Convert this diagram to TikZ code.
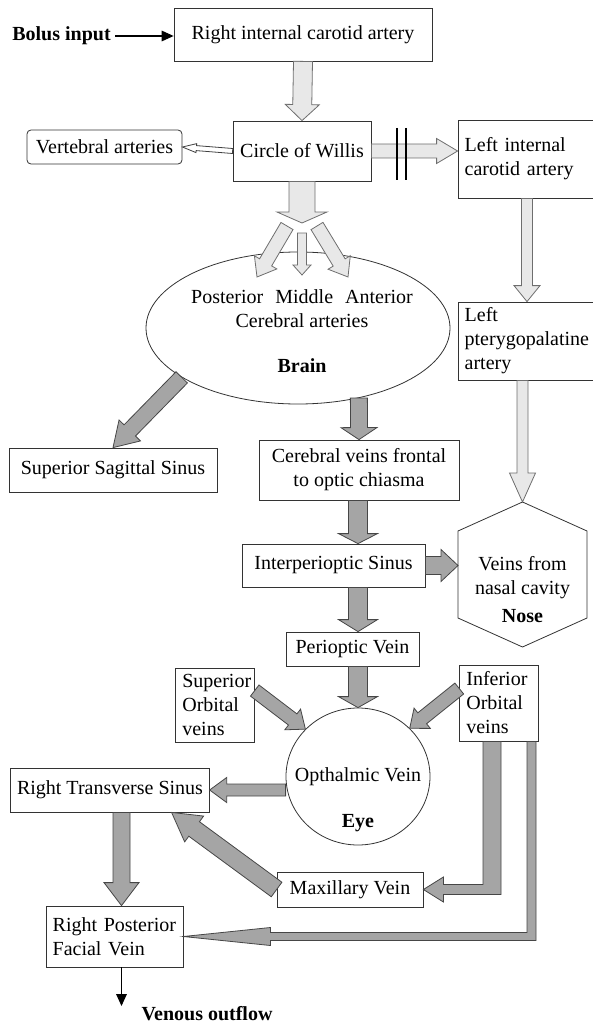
\documentclass[tikz,border=0pt]{standalone}
\usepackage{fontspec}
\setmainfont{Liberation Serif}
\usetikzlibrary{calc,arrows.meta,shapes.geometric}

\definecolor{artfill}{RGB}{232,232,232}
\definecolor{artline}{RGB}{110,110,110}
\definecolor{veinfill}{RGB}{165,165,165}
\definecolor{veinline}{RGB}{70,70,70}

% block arrow: [style]{from}{to}{half shaft}{half head}{head length}, sizes in px
\newcommand{\fatarrow}[6][]{%
  \coordinate (fahead) at ($(#3)!#6*0.75pt!(#2)$);
  \draw[#1] ($(#2)!#4*0.75pt!90:(#3)$) -- ($(fahead)!#4*0.75pt!-90:(#2)$)
    -- ($(fahead)!#5*0.75pt!-90:(#2)$) -- (#3) -- ($(fahead)!#5*0.75pt!90:(#2)$)
    -- ($(fahead)!#4*0.75pt!90:(#2)$) -- ($(#2)!#4*0.75pt!-90:(#3)$) -- cycle;}

\tikzset{
  box/.style={draw=black!80, line width=0.6pt, fill=white, inner sep=0pt, align=center},
  lbox/.style={draw=black!80, line width=0.6pt, fill=white, inner xsep=5pt, inner ysep=0pt, align=left, text width=#1},
  wh/.style 2 args={minimum width=#1*0.75pt, minimum height=#2*0.75pt},
  artery/.style={fill=artfill, draw=artline, line width=0.6pt},
  vein/.style={fill=veinfill, draw=veinline, line width=0.6pt},
  flow/.style={line width=0.8pt, -{Triangle[length=9pt,width=8pt]}},
  boldtext/.style={font=\fontsize{15}{18}\selectfont\bfseries},
}

\begin{document}
\begin{tikzpicture}[x=0.75pt,y=0.75pt,yscale=-1,xscale=1, font=\fontsize{15}{18}\selectfont]
\useasboundingbox (0,0) rectangle (592,1027);

% Text Node
\node[boldtext] (bolus) at (61.5,36) {Bolus input};
% Boxes
\node[box, wh={258}{53}] (ric) at (303,34.5) {Right internal carotid artery};
\node[box, wh={138}{60}] (cow) at (302,151) {Circle of Willis};
\node[box, wh={155}{34}, rounded corners=3pt] (vert) at (104.5,147) {Vertebral arteries};
\node[lbox=93.5pt, minimum height=78*0.75pt] (lica) at (527,159) {Left internal\\carotid artery};
\node[lbox=93.5pt, minimum height=78*0.75pt] (lpa) at (527,341) {Left\\pterygopalatine\\artery};

% Brain
\node[draw=black!80, line width=0.6pt, ellipse, inner sep=0pt, wh={304}{152}] (brain) at (298,328) {};
\node[align=center] (braintxt) at (302,331) {Posterior\hspace{0.6em}Middle\hspace{0.6em}Anterior\\Cerebral arteries\\[16pt]\textbf{Brain}};

\node[box, wh={208}{44}] (sss) at (113,470) {Superior Sagittal Sinus};
\node[box, wh={200}{60}] (cvf) at (359,470) {Cerebral veins frontal\\to optic chiasma};
\node[box, wh={183}{43}] (isn) at (333.5,565.5) {Interperioptic Sinus};

% Nose
\coordinate (nose) at (522.5,574.5);
\draw[draw=black!80, line width=0.6pt] ($(nose)+(0,-72.5)$) -- ($(nose)+(64.5,-43.5)$) -- ($(nose)+(64.5,43.5)$) -- ($(nose)+(0,72.5)$) -- ($(nose)+(-64.5,43.5)$) -- ($(nose)+(-64.5,-43.5)$) -- cycle;
\node[align=center] (nosetxt) at (522.5,590) {Veins from\\nasal cavity\\[3pt]\textbf{Nose}};

\node[box, wh={133}{34}] (pov) at (352.5,649) {Perioptic Vein};
\node[lbox=49pt, minimum height=74*0.75pt] (sov) at (215,705) {Superior\\Orbital\\veins};
\node[lbox=49pt, minimum height=76*0.75pt] (iov) at (499,703) {Inferior\\Orbital\\veins};

% Eye
\node[draw=black!80, line width=0.6pt, ellipse, inner sep=0pt, wh={144}{137}] (eye) at (358,776.5) {};
\node[align=center] (eyetxt) at (358,800) {Opthalmic Vein\\[16.5pt]\textbf{Eye}};

\node[box, wh={198.5}{44}] (rts) at (110,790) {Right Transverse Sinus};
\node[box, wh={146}{35}] (mxv) at (350,889.5) {Maxillary Vein};
\node[lbox=92.75pt, minimum height=61*0.75pt] (rpf) at (114.5,936.5) {Right Posterior\\Facial Vein};
\node[boldtext] (out) at (207,1014) {Venous outflow};

% helper coordinates
\coordinate (licain) at (cow.east -| lica.west);
\coordinate (split) at (302,223);
\coordinate (pca0) at (287,226);
\coordinate (pca) at (257,277);
\coordinate (mca0) at (302,233);
\coordinate (mca) at (302,275);
\coordinate (aca0) at (317,226);
\coordinate (aca) at (348,277);
\coordinate (nosetop) at ($(nose)+(0,-72.5)$);
\coordinate (nosel) at ($(nose)+(-64.5,0)$);
\coordinate (noseup) at (lpa.south -| nosetop);
\coordinate (nosein) at (isn.east -| nosel);
\coordinate (cv1) at (cvf.south -| eye.north);
\coordinate (cv2) at (isn.north -| eye.north);
\coordinate (is1) at (isn.south -| eye.north);
\coordinate (is2) at (pov.north -| eye.north);
\coordinate (pv1) at (pov.south -| eye.north);
\coordinate (ey1) at (rts.east -| eye.west);
\coordinate (flowx) at (121.5,0);
\coordinate (rt1) at (rts.south -| flowx);
\coordinate (rt2) at (rpf.north -| flowx);
\coordinate (rp1) at (rpf.south -| flowx);
\coordinate (outtip) at (121.5,1006);

% Arteries
\draw[flow] (bolus.east) -- (bolus.east -| ric.west);
\fatarrow[artery]{ric.south}{cow.north}{9.5}{17}{16}
\fatarrow[artery, fill=white, draw=black!75]{cow.west}{vert.east}{2.5}{4.5}{14}
\fatarrow[artery]{cow.east}{licain}{7}{12.5}{21}
\draw[line width=1.4pt] ($(cow.east)+(26,-23)$) -- ($(cow.east)+(26,29)$);
\draw[line width=1.4pt] ($(cow.east)+(35,-23)$) -- ($(cow.east)+(35,29)$);
\fatarrow[artery]{cow.south}{split}{13}{25}{11}
\fatarrow[artery]{pca0}{pca}{7}{13}{17}
\fatarrow[artery]{mca0}{mca}{4.5}{9}{10}
\fatarrow[artery]{aca0}{aca}{7}{13}{17}
\fatarrow[artery]{lica.south}{lpa.north}{5.5}{13}{16}
\fatarrow[artery]{noseup}{nosetop}{5.5}{13}{29}

% Veins
\fatarrow[vein]{brain.203}{sss.north}{8}{15}{24}
\fatarrow[vein]{brain.-49}{cvf.north}{8.5}{18}{12}
\fatarrow[vein]{cv1}{cv2}{9.5}{19.5}{10}
\fatarrow[vein]{isn.east}{nosein}{9}{16}{17}
\fatarrow[vein]{is1}{is2}{9.5}{19.5}{12}
\fatarrow[vein]{pv1}{eye.north}{9.5}{19.5}{11}
\fatarrow[vein]{sov.20}{eye.138}{7}{13}{16}
\fatarrow[vein]{iov.160}{eye.43}{7}{13}{16}
\fatarrow[vein]{ey1}{rts.east}{6}{12.5}{17}
\fatarrow[vein]{mxv.west}{rts.-20}{9}{16}{28}
\fatarrow[vein]{rt1}{rt2}{8.5}{17.5}{23}
\draw[vein] ($(iov.south)+(-16,0)$) -- ($(iov.south |- mxv.east)+(-16,-5)$) -- ($(mxv.east)+(20,-5)$) -- ($(mxv.east)+(20,-12.5)$) -- (mxv.east) -- ($(mxv.east)+(20,12.5)$) -- ($(mxv.east)+(20,5)$) -- ($(iov.south |- mxv.east)+(2,5)$) -- ($(iov.south)+(2,0)$) -- cycle;
\draw[vein] ($(iov.south)+(28,0)$) -- ($(iov.south |- rpf.east)+(28,-4)$) -- ($(rpf.east)+(87,-4)$) -- ($(rpf.east)+(87,-9)$) -- (rpf.east) -- ($(rpf.east)+(87,9)$) -- ($(rpf.east)+(87,4)$) -- ($(iov.south |- rpf.east)+(37,4)$) -- ($(iov.south)+(37,0)$) -- cycle;
\draw[flow] (rp1) -- (outtip);

\end{tikzpicture}
\end{document}
